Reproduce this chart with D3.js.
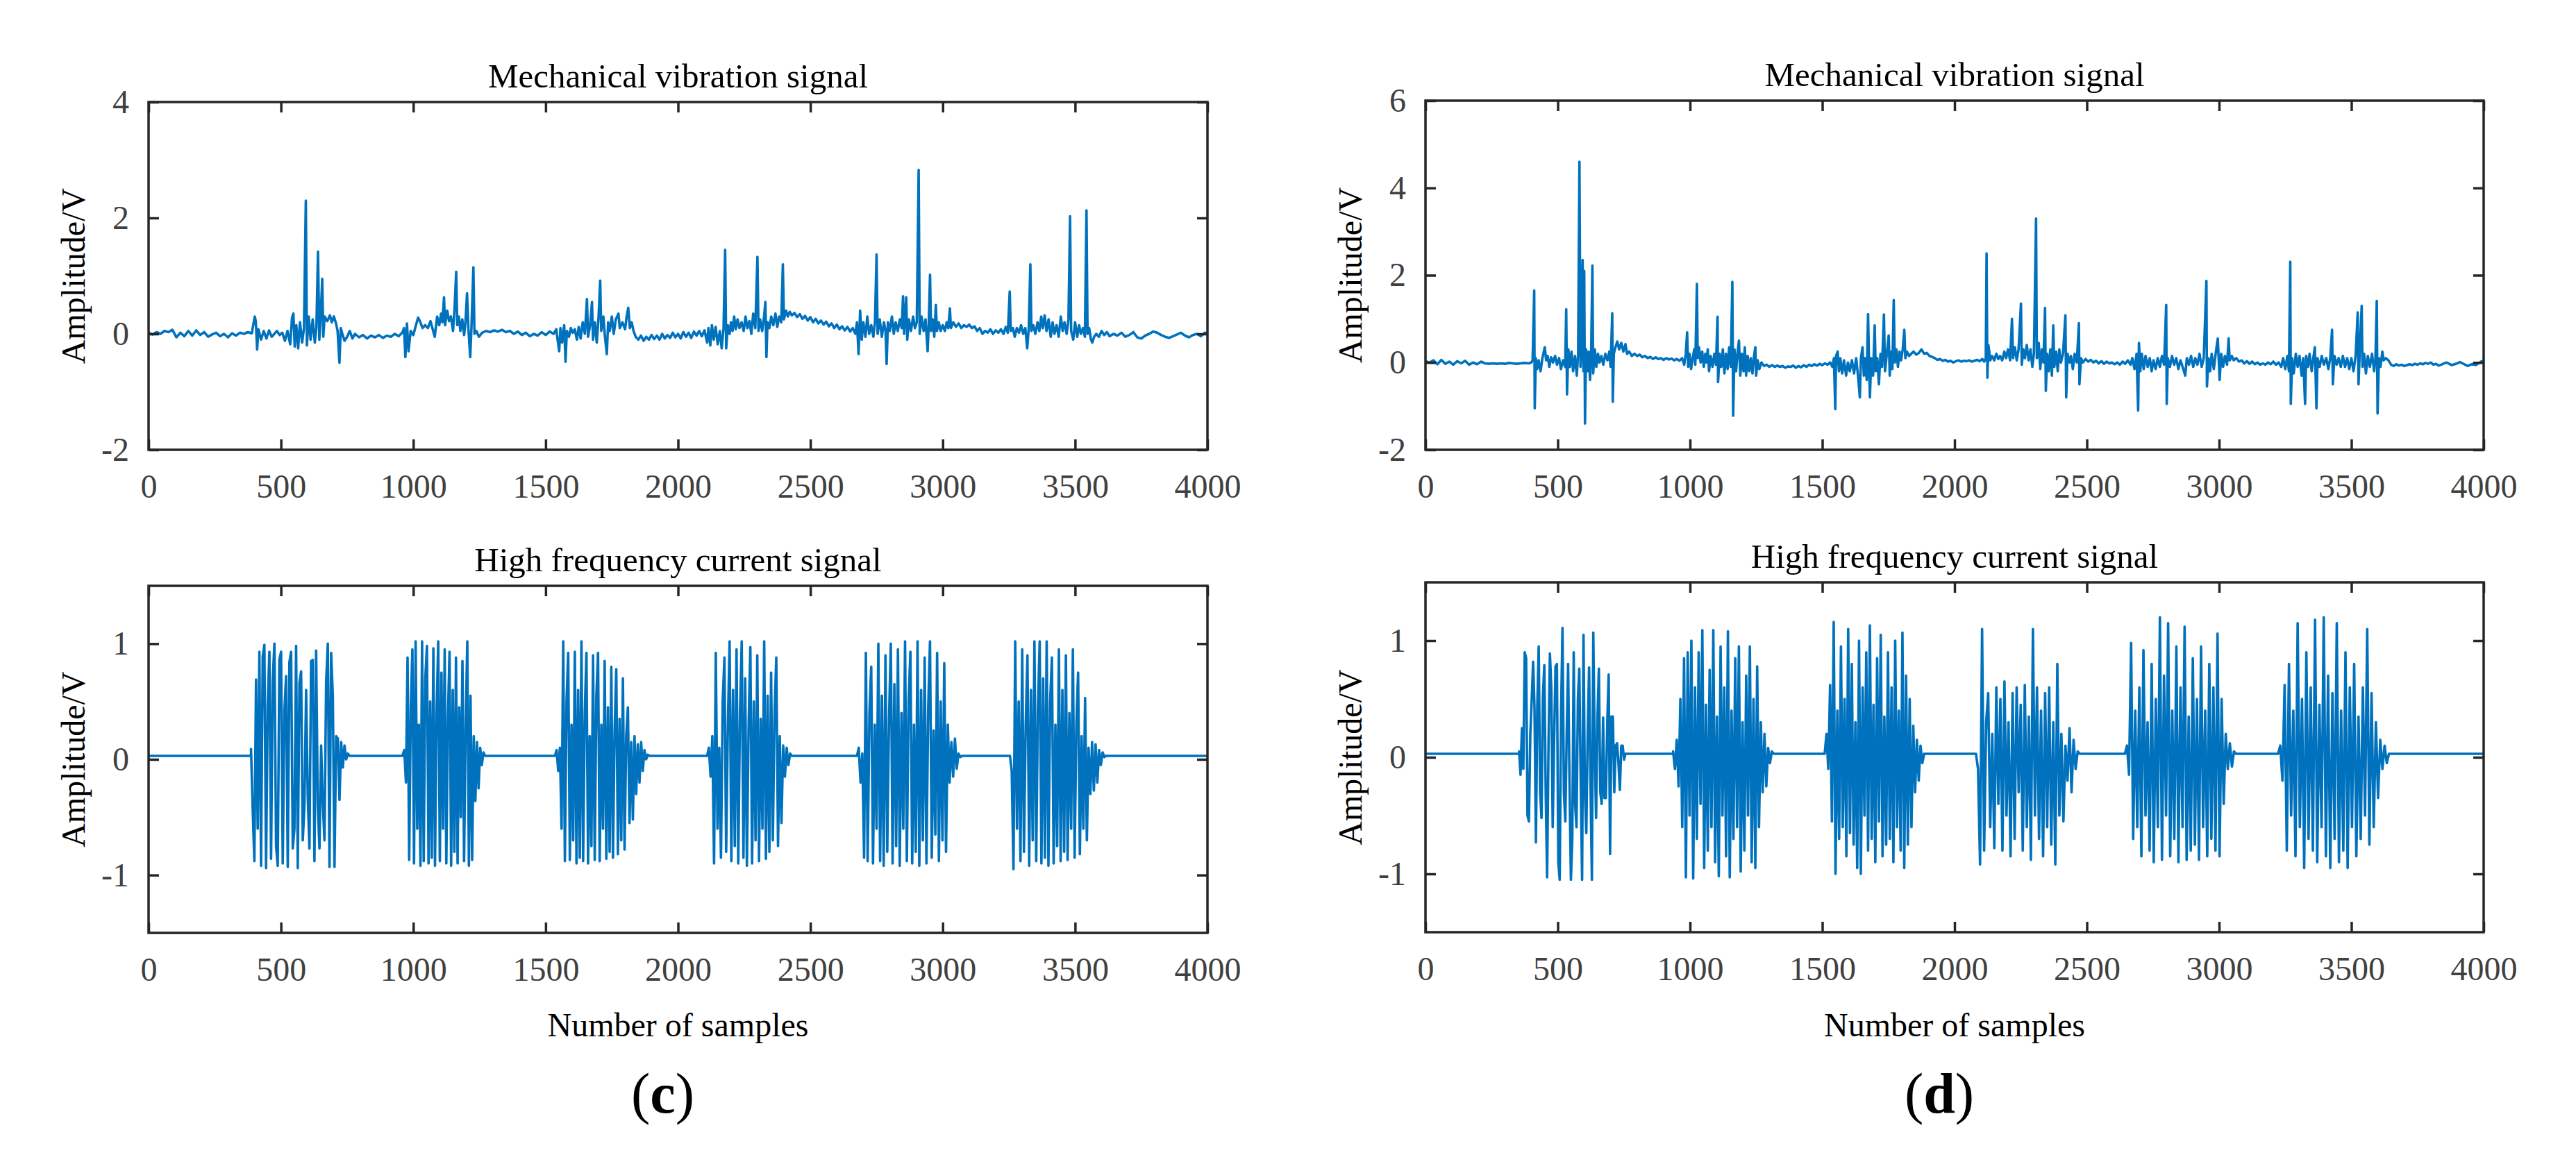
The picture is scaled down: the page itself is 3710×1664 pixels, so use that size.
<!DOCTYPE html>
<html>
<head>
  <meta charset="utf-8">
  <title>Vibration and current signals</title>
  <script src="https://d3js.org/d3.v7.min.js"></script>
  <style>
    body { margin: 0; background: #fff; }
    text { font-family: "Liberation Serif", "Times New Roman", serif; }
  </style>
</head>
<body>
  <div id="chart"></div>

  <script>
    // tick labels
    var xTicks = [0, 500, 1000, 1500, 2000, 2500, 3000, 3500, 4000];
    var yTicksVibC = [-2, 0, 2, 4];
    var yTicksVibD = [-2, 0, 2, 4, 6];
    var yTicksCur = [-1, 0, 1];

    // mechanical vibration signal (c): [sample, amplitude]
    var vibC = [
      [0,0.02],[15,-0.01],[30,0.03],[45,0.0],[60,0.05],[75,0.03],[90,0.07],[105,-0.06],[120,0.02],[135,-0.04],
      [150,0.05],[165,-0.03],[180,0.06],[195,-0.02],[210,0.03],[225,-0.05],[240,-0.01],[255,0.02],[270,-0.04],[285,0.0],
      [300,-0.06],[315,0.01],[330,-0.03],[345,0.02],[360,0.0],[375,0.03],[390,0.01],[401,0.3],[405,0.22],[410,-0.27],
      [415,0.08],[425,-0.1],[435,0.05],[445,-0.08],[455,0.06],[465,-0.05],[475,0.0],[485,0.05],[495,-0.02],[505,0.02],
      [515,-0.12],[525,0.05],[535,-0.18],[542,0.28],[547,0.35],[552,-0.22],[558,0.15],[565,-0.25],[572,0.2],[580,-0.15],
      [587,0.1],[594,2.3],[598,-0.2],[605,0.3],[612,-0.1],[620,0.25],[628,-0.15],[634,0.12],[640,1.42],[645,-0.1],
      [650,0.28],[656,0.95],[660,-0.05],[665,0.3],[675,0.22],[685,0.32],[692,0.2],[700,0.3],[708,0.18],[714,0.05],
      [721,-0.5],[726,0.1],[732,0.0],[740,-0.12],[750,-0.05],[760,0.05],[770,-0.08],[780,0.0],[795,-0.06],[810,-0.02],
      [825,-0.08],[840,-0.03],[855,-0.06],[870,-0.02],[885,-0.07],[900,-0.03],[915,-0.05],[930,0.0],[945,-0.04],[958,0.02],
      [965,0.1],[970,-0.4],[976,0.18],[982,-0.3],[990,0.05],[1000,-0.02],[1010,0.15],[1018,0.28],[1025,0.22],[1035,0.1],
      [1045,0.15],[1055,0.1],[1065,0.22],[1075,0.05],[1081,-0.05],[1090,0.3],[1098,0.15],[1105,0.35],[1110,0.2],[1116,0.63],
      [1120,0.15],[1128,0.4],[1135,0.22],[1142,0.3],[1150,0.05],[1156,0.45],[1162,1.07],[1166,0.15],[1172,0.3],[1178,0.05],
      [1185,0.25],[1192,-0.02],[1197,0.2],[1203,0.7],[1208,0.1],[1215,-0.4],[1220,0.15],[1227,1.15],[1231,0.0],[1238,0.05],
      [1248,-0.05],[1260,0.02],[1275,0.05],[1290,0.03],[1305,0.06],[1320,0.04],[1335,0.07],[1350,0.03],[1365,0.05],[1380,0.0],
      [1395,0.04],[1410,-0.02],[1425,0.02],[1440,-0.04],[1455,0.0],[1470,-0.03],[1485,0.03],[1500,-0.02],[1515,0.04],[1530,0.0],
      [1540,0.08],[1548,-0.2],[1551,-0.3],[1556,0.1],[1562,-0.15],[1570,0.15],[1575,-0.48],[1580,0.05],[1588,-0.05],[1595,0.1],
      [1602,0.02],[1610,0.08],[1618,-0.1],[1625,0.12],[1632,-0.08],[1640,0.2],[1648,0.0],[1656,0.6],[1660,-0.05],[1668,0.15],
      [1675,0.55],[1679,-0.1],[1686,0.2],[1693,-0.15],[1700,0.3],[1706,0.92],[1710,0.05],[1718,0.3],[1724,-0.05],[1731,-0.35],
      [1736,0.2],[1742,0.05],[1750,0.3],[1757,0.0],[1765,0.25],[1775,0.35],[1780,0.1],[1790,0.2],[1800,0.08],[1806,0.3],
      [1812,0.45],[1818,0.1],[1825,0.2],[1832,0.05],[1840,-0.05],[1850,-0.1],[1860,-0.03],[1870,-0.12],[1880,-0.05],[1890,-0.1],
      [1900,-0.02],[1910,-0.09],[1920,-0.03],[1930,-0.1],[1940,0.0],[1950,-0.08],[1960,-0.02],[1970,-0.07],[1980,0.02],[1990,-0.06],
      [2000,0.0],[2010,-0.08],[2020,0.03],[2030,-0.05],[2040,0.02],[2050,-0.07],[2060,0.04],[2070,-0.03],[2080,0.05],[2090,-0.04],
      [2100,0.06],[2110,-0.15],[2115,0.1],[2122,-0.2],[2128,0.15],[2135,-0.1],[2142,0.12],[2150,-0.18],[2158,0.05],[2165,-0.25],
      [2172,0.1],[2178,1.45],[2182,-0.25],[2188,0.15],[2195,0.0],[2200,0.2],[2206,0.05],[2212,0.3],[2218,0.08],[2225,0.25],
      [2232,0.1],[2240,0.2],[2248,0.05],[2255,0.3],[2262,0.1],[2270,0.22],[2277,0.0],[2284,0.35],[2292,0.1],[2300,1.33],
      [2304,0.05],[2310,0.25],[2318,0.05],[2325,0.3],[2330,0.55],[2334,-0.4],[2338,0.2],[2345,0.1],[2352,0.3],[2360,0.15],
      [2368,0.35],[2375,0.12],[2382,0.3],[2390,0.2],[2396,1.2],[2400,0.25],[2408,0.4],[2415,0.3],[2422,0.38],[2430,0.32],
      [2440,0.36],[2450,0.29],[2460,0.34],[2470,0.26],[2480,0.31],[2490,0.23],[2500,0.29],[2510,0.2],[2520,0.26],[2530,0.18],
      [2540,0.23],[2550,0.16],[2560,0.21],[2570,0.13],[2580,0.18],[2590,0.1],[2600,0.16],[2610,0.08],[2620,0.13],[2630,0.06],
      [2640,0.12],[2650,0.04],[2660,0.1],[2670,0.0],[2676,0.2],[2682,-0.35],[2688,0.4],[2694,-0.1],[2700,0.2],[2708,-0.05],
      [2715,0.3],[2722,0.0],[2730,0.15],[2738,-0.05],[2744,0.2],[2750,1.37],[2754,0.0],[2762,0.25],[2770,-0.05],[2778,0.2],
      [2784,0.05],[2788,-0.52],[2793,0.2],[2800,0.05],[2808,0.3],[2815,0.0],[2822,0.2],[2830,0.05],[2838,0.25],[2845,0.1],
      [2850,0.65],[2854,0.0],[2862,0.63],[2866,-0.1],[2872,0.25],[2880,0.05],[2888,0.3],[2895,0.1],[2902,0.2],[2909,2.83],
      [2913,0.0],[2920,0.3],[2928,0.05],[2935,0.25],[2943,-0.3],[2947,0.15],[2952,1.02],[2956,0.05],[2962,0.25],[2968,-0.05],
      [2974,0.5],[2978,0.05],[2985,0.2],[2992,0.05],[3000,0.15],[3008,0.05],[3015,0.2],[3021,0.1],[3027,0.44],[3031,0.1],
      [3040,0.2],[3050,0.12],[3060,0.18],[3070,0.1],[3080,0.15],[3090,0.12],[3100,0.16],[3110,0.1],[3120,0.13],[3130,0.05],
      [3140,0.1],[3150,0.0],[3160,0.05],[3170,0.02],[3180,0.08],[3190,0.0],[3200,0.06],[3210,0.02],[3220,0.08],[3230,0.0],
      [3238,0.12],[3246,0.02],[3253,0.73],[3257,0.05],[3265,0.1],[3272,-0.05],[3280,0.1],[3288,0.02],[3296,0.15],[3304,0.0],
      [3312,0.1],[3319,-0.25],[3325,0.1],[3331,1.2],[3335,0.05],[3342,0.15],[3350,0.0],[3358,0.2],[3365,0.05],[3372,0.3],
      [3378,0.1],[3385,0.32],[3392,0.05],[3400,0.25],[3408,-0.05],[3415,0.2],[3422,0.0],[3430,0.15],[3438,-0.05],[3446,0.3],
      [3453,0.05],[3460,0.2],[3468,0.0],[3475,0.25],[3481,2.03],[3485,0.05],[3493,-0.1],[3500,0.2],[3508,-0.05],[3515,0.15],
      [3522,0.0],[3530,0.1],[3537,-0.05],[3543,2.13],[3547,0.0],[3553,0.1],[3560,-0.1],[3565,-0.15],[3572,-0.05],[3580,0.0],
      [3590,-0.05],[3600,0.05],[3610,-0.02],[3620,0.03],[3630,-0.04],[3645,0.0],[3660,-0.03],[3675,0.02],[3690,-0.05],[3705,-0.02],
      [3720,0.03],[3735,-0.06],[3750,-0.08],[3765,-0.03],[3780,0.0],[3795,0.04],[3810,0.02],[3825,-0.02],[3840,-0.05],[3855,-0.07],
      [3870,-0.04],[3885,-0.01],[3900,0.02],[3915,-0.03],[3930,-0.06],[3945,-0.02],[3960,0.0],[3975,-0.04],[3990,0.02],[4000,0.01]
    ];

    // mechanical vibration signal (d): [sample, amplitude]
    var vibD = [
      [0,0.03],[15,0.0],[30,0.05],[45,-0.04],[60,0.06],[75,-0.03],[90,0.02],[105,-0.05],[120,0.03],[135,-0.02],
      [150,0.04],[165,-0.05],[180,0.0],[195,-0.04],[210,0.02],[225,-0.02],[240,-0.03],[255,-0.02],[270,-0.03],[285,-0.02],
      [300,-0.03],[315,-0.01],[330,-0.02],[345,-0.03],[360,-0.02],[375,-0.01],[390,-0.02],[400,0.0],[405,0.05],[411,1.65],
      [413,-1.05],[417,0.1],[422,-0.15],[428,0.05],[435,-0.2],[442,0.1],[451,0.35],[456,0.05],[462,0.15],[468,-0.1],
      [475,0.12],[482,0.0],[490,0.15],[497,-0.05],[505,0.1],[512,-0.15],[520,0.05],[528,-0.1],[532,1.22],[535,-0.73],
      [540,0.3],[546,-0.1],[552,0.25],[558,-0.2],[565,0.15],[572,-0.3],[577,0.2],[582,4.6],[586,-0.1],[590,0.5],
      [594,2.35],[597,-0.2],[600,2.1],[603,-1.4],[607,0.3],[612,-0.2],[617,0.25],[622,-0.4],[626,0.1],[631,2.22],
      [634,-0.25],[640,0.3],[646,-0.1],[652,0.2],[658,0.0],[665,0.15],[672,-0.05],[680,0.2],[688,0.05],[695,0.25],
      [700,-0.1],[706,1.13],[708,-0.9],[712,0.2],[718,0.35],[725,0.48],[732,0.3],[740,0.45],[748,0.25],[756,0.42],
      [762,0.2],[770,0.25],[780,0.15],[790,0.2],[800,0.15],[810,0.18],[820,0.12],[830,0.15],[840,0.1],[850,0.13],
      [860,0.08],[870,0.12],[880,0.08],[890,0.1],[900,0.06],[910,0.1],[920,0.07],[930,0.09],[940,0.05],[950,0.08],
      [960,0.04],[970,0.1],[978,-0.05],[984,0.2],[989,0.69],[993,-0.1],[998,0.2],[1004,-0.15],[1010,0.1],[1016,0.3],
      [1020,-0.05],[1026,1.8],[1029,0.1],[1034,0.35],[1040,0.0],[1046,0.25],[1052,-0.1],[1058,0.2],[1063,0.0],[1067,0.3],
      [1072,-0.2],[1078,0.15],[1085,-0.1],[1092,0.2],[1098,-0.05],[1104,1.05],[1106,-0.45],[1112,0.2],[1118,-0.1],[1124,0.3],
      [1130,-0.25],[1136,0.2],[1142,-0.15],[1148,0.35],[1154,-0.1],[1160,1.85],[1163,-1.22],[1168,0.3],[1174,-0.2],[1180,0.25],
      [1185,0.5],[1190,-0.3],[1196,0.2],[1202,-0.2],[1207,0.35],[1212,-0.3],[1218,0.15],[1224,-0.2],[1230,0.1],[1236,-0.25],
      [1242,0.15],[1247,0.35],[1250,-0.3],[1256,0.05],[1262,-0.15],[1270,0.0],[1280,-0.08],[1290,-0.05],[1300,-0.1],[1310,-0.06],
      [1320,-0.1],[1330,-0.07],[1340,-0.1],[1350,-0.08],[1360,-0.12],[1370,-0.09],[1380,-0.1],[1390,-0.07],[1400,-0.12],[1410,-0.08],
      [1420,-0.11],[1430,-0.06],[1440,-0.1],[1450,-0.05],[1460,-0.08],[1470,-0.04],[1480,-0.07],[1490,-0.03],[1500,-0.06],[1510,-0.02],
      [1520,-0.05],[1530,0.0],[1538,-0.1],[1544,0.1],[1549,-1.07],[1552,0.15],[1558,0.25],[1563,-0.2],[1568,0.1],[1575,-0.25],
      [1582,0.05],[1590,-0.3],[1597,0.0],[1604,-0.2],[1612,0.05],[1620,-0.25],[1628,0.1],[1635,-0.3],[1642,-0.8],[1646,0.1],
      [1652,0.35],[1657,-0.3],[1662,0.1],[1668,-0.4],[1673,1.11],[1677,-0.1],[1680,-0.8],[1685,0.1],[1692,-0.3],[1698,0.85],
      [1702,-0.2],[1708,0.1],[1714,-0.5],[1720,0.2],[1726,-0.1],[1733,1.1],[1737,-0.2],[1744,0.2],[1751,0.62],[1755,-0.3],
      [1760,0.25],[1765,-0.15],[1770,1.43],[1774,0.0],[1780,0.3],[1786,-0.1],[1792,0.25],[1798,0.05],[1804,0.3],[1810,0.75],
      [1814,0.1],[1820,0.25],[1828,0.15],[1836,0.2],[1845,0.25],[1855,0.18],[1865,0.22],[1875,0.3],[1885,0.2],[1895,0.22],
      [1905,0.15],[1915,0.13],[1925,0.1],[1935,0.06],[1945,0.08],[1955,0.04],[1965,0.06],[1975,0.02],[1985,0.04],[1995,0.0],
      [2005,0.03],[2015,0.05],[2025,0.02],[2035,0.04],[2045,0.03],[2055,0.05],[2065,0.02],[2075,0.04],[2085,0.06],[2095,0.03],
      [2105,0.08],[2112,0.02],[2118,0.1],[2121,2.5],[2124,-0.35],[2128,0.4],[2135,0.05],[2142,0.15],[2150,0.05],[2158,0.2],
      [2165,0.08],[2172,0.15],[2180,0.05],[2188,0.25],[2195,0.1],[2202,0.3],[2210,0.05],[2217,1.0],[2221,0.1],[2228,0.35],
      [2235,0.05],[2242,0.3],[2251,1.35],[2254,-0.05],[2260,0.3],[2266,0.1],[2273,0.4],[2280,0.05],[2287,0.3],[2294,-0.1],
      [2300,0.2],[2308,3.3],[2311,0.1],[2318,0.45],[2324,-0.15],[2330,0.3],[2336,0.0],[2342,1.25],[2345,-0.65],[2350,0.2],
      [2356,-0.2],[2362,0.3],[2368,-0.3],[2373,0.85],[2377,-0.1],[2384,0.25],[2390,-0.2],[2396,0.3],[2402,0.0],[2410,0.2],
      [2419,1.08],[2422,-0.8],[2427,0.2],[2434,0.0],[2440,0.15],[2447,-0.15],[2454,0.2],[2462,0.0],[2470,0.9],[2472,-0.5],
      [2478,0.1],[2485,0.0],[2495,0.08],[2505,0.02],[2515,0.06],[2525,0.0],[2535,0.04],[2545,-0.02],[2555,0.03],[2565,-0.03],
      [2575,0.02],[2585,-0.02],[2595,0.0],[2605,-0.04],[2615,0.0],[2625,-0.05],[2635,0.02],[2645,-0.03],[2655,0.05],[2665,-0.05],
      [2672,0.1],[2680,-0.15],[2688,0.2],[2694,-1.1],[2697,0.45],[2702,-0.2],[2708,0.2],[2715,-0.15],[2722,0.15],[2730,-0.1],
      [2738,0.1],[2745,-0.2],[2752,0.05],[2760,-0.15],[2768,0.1],[2776,-0.1],[2784,0.15],[2792,-0.05],[2800,1.32],[2802,-0.95],
      [2806,0.1],[2814,-0.1],[2822,0.15],[2830,-0.05],[2838,0.1],[2846,-0.15],[2854,0.05],[2862,-0.1],[2872,-0.3],[2878,0.1],
      [2886,-0.05],[2894,0.15],[2902,-0.1],[2910,0.1],[2918,-0.05],[2926,0.2],[2934,-0.1],[2942,0.1],[2952,1.87],[2954,-0.55],
      [2960,0.1],[2966,-0.2],[2972,0.2],[2980,-0.15],[2988,0.25],[2995,0.55],[2999,0.0],[3002,-0.4],[3008,0.2],[3015,-0.1],
      [3022,0.15],[3030,-0.05],[3036,0.55],[3040,0.05],[3048,0.15],[3055,0.05],[3065,0.1],[3075,0.02],[3085,0.05],[3095,-0.02],
      [3105,0.03],[3115,-0.03],[3125,0.02],[3135,-0.04],[3145,0.0],[3155,-0.05],[3165,-0.02],[3175,-0.05],[3185,0.0],[3195,-0.04],
      [3205,0.02],[3215,-0.05],[3225,0.0],[3235,-0.1],[3242,0.1],[3250,-0.15],[3258,0.15],[3264,-0.2],[3269,2.31],[3271,-0.95],
      [3276,0.1],[3282,-0.25],[3290,0.2],[3297,-0.1],[3304,0.15],[3312,-0.3],[3318,0.1],[3325,-0.95],[3329,0.15],[3336,-0.1],
      [3342,0.2],[3350,-0.2],[3356,0.1],[3362,0.35],[3368,-1.05],[3372,0.1],[3380,-0.1],[3388,0.15],[3396,-0.05],[3405,0.1],
      [3413,-0.15],[3420,0.1],[3427,0.75],[3430,-0.5],[3436,0.15],[3444,-0.05],[3452,0.1],[3460,-0.1],[3468,0.15],[3476,-0.1],
      [3484,0.1],[3492,-0.15],[3500,0.1],[3508,-0.2],[3516,0.15],[3524,1.15],[3527,-0.5],[3532,0.3],[3539,1.3],[3542,-0.1],
      [3548,0.2],[3555,-0.25],[3562,0.15],[3570,-0.1],[3578,0.2],[3586,-0.2],[3591,0.1],[3596,1.41],[3599,-1.17],[3604,0.1],
      [3610,-0.1],[3617,0.25],[3622,0.05],[3630,0.1],[3640,0.05],[3650,-0.05],[3660,-0.08],[3670,-0.04],[3680,-0.07],[3690,-0.05],
      [3700,-0.08],[3710,-0.06],[3720,-0.04],[3730,-0.06],[3740,-0.03],[3750,-0.05],[3760,-0.02],[3770,-0.04],[3780,-0.01],[3790,-0.03],
      [3800,0.0],[3810,-0.05],[3820,-0.03],[3830,-0.07],[3840,-0.05],[3850,-0.02],[3860,0.0],[3870,-0.03],[3880,-0.06],[3890,-0.04],
      [3900,-0.02],[3910,0.01],[3920,-0.02],[3930,-0.05],[3940,-0.08],[3950,-0.05],[3960,-0.03],[3970,-0.06],[3980,-0.02],[3990,0.02],[4000,0.04]
    ];

    // high frequency current signal: level between bursts
    var curBaseC = 0.03;
    var curBaseD = 0.03;

    // burst spans [first sample, last sample]
    var burstSpanC = [[387, 759], [960, 1271], [1535, 1892], [2110, 2430], [2676, 3073], [3254, 3617]];
    var burstSpanD = [[354, 756], [936, 1316], [1509, 1885], [2081, 2473], [2644, 3064], [3223, 3642]];

    // successive extremes inside each burst (c)
    var burstC1 = [0.09,-0.43,-0.88,0.69,-0.6,0.93,-0.92,0.89,0.99,-0.94,0.48,0.93,-0.86,0.68,1.0,-0.75,-0.92,0.86,0.93,-0.9,
                   0.42,0.72,-0.93,0.84,0.93,-0.77,-0.6,0.98,-0.94,0.66,0.76,-0.7,-0.4,0.6,-0.33,-0.77,0.85,0.86,-0.88,0.94,
                   -0.4,-0.77,0.12,-0.38,-0.7,0.67,1.0,-0.93,0.92,0.55,-0.93,0.2,0.18,-0.35,0.15,-0.07,0.12,0.0,0.05,0.03];
    var burstC2 = [0.04,0.08,-0.2,0.88,-0.87,0.45,0.95,-0.9,1.02,-0.6,0.3,-0.92,1.02,-0.88,0.7,0.98,-0.9,0.5,-0.85,0.96,
                   -0.92,0.4,1.02,-0.88,0.75,-0.6,0.95,-0.9,0.35,0.93,-0.92,0.6,-0.8,0.88,-0.9,0.45,-0.5,0.85,-0.88,0.3,
                   1.02,-0.92,0.55,-0.87,0.2,-0.36,0.15,-0.25,0.1,-0.05,0.06,0.03];
    var burstC3 = [0.03,0.08,-0.1,0.1,-0.6,1.02,-0.88,0.5,0.92,-0.87,0.3,-0.7,0.93,-0.9,0.6,-0.85,1.02,-0.88,0.4,0.92,
                   -0.9,0.2,-0.75,0.9,-0.87,0.55,0.92,-0.88,0.3,-0.6,0.85,-0.86,0.45,-0.8,0.8,-0.85,0.25,0.78,-0.82,0.35,
                   -0.7,0.7,-0.78,0.2,0.45,-0.55,0.15,-0.52,0.2,-0.3,0.13,-0.2,0.15,-0.1,0.08,0.0,0.04,0.03];
    var burstC4 = [0.03,0.1,-0.15,0.2,-0.9,0.92,-0.6,0.1,-0.85,0.5,0.88,-0.8,0.3,1.02,-0.88,0.6,-0.75,0.95,-0.9,0.4,
                   1.02,-0.85,0.7,-0.92,0.3,0.97,-0.9,0.5,-0.7,0.9,-0.88,0.35,-0.6,1.02,-0.86,0.55,-0.8,0.75,-0.7,0.4,
                   0.88,-0.75,0.2,-0.55,0.12,-0.15,0.1,-0.05,0.05,0.03];
    var burstC5 = [0.03,0.1,-0.2,0.05,-0.85,0.92,-0.88,0.4,0.8,-0.9,0.3,-0.6,1.0,-0.88,0.55,-0.92,0.9,-0.8,0.35,1.0,
                   -0.9,0.65,-0.75,0.95,-0.92,0.4,-0.6,1.02,-0.88,0.5,0.93,-0.9,0.3,-0.8,1.02,-0.92,0.6,-0.7,0.88,-0.9,
                   0.45,1.02,-0.85,0.25,-0.65,0.92,-0.88,0.5,-0.7,0.83,-0.8,0.3,-0.2,0.15,-0.15,0.18,-0.08,0.05,0.02,0.03];
    var burstC6 = [0.03,-0.1,-0.95,1.02,-0.6,0.5,-0.88,0.95,-0.8,0.3,0.9,-0.92,0.6,-0.7,1.02,-0.88,0.45,1.02,-0.9,0.7,
                   -0.85,1.02,-0.92,0.5,0.88,-0.9,0.3,-0.75,0.95,-0.88,0.6,-0.8,0.9,-0.87,0.4,-0.6,0.95,-0.85,0.3,0.75,
                   -0.82,0.2,-0.6,0.53,-0.7,0.1,-0.3,0.15,-0.27,0.13,-0.2,0.08,-0.05,0.06,0.02,0.03];

    // successive extremes inside each burst (d)
    var burstD1 = [0.05,-0.15,0.25,-0.1,0.9,0.85,-0.5,-0.55,0.2,0.5,0.82,0.42,-0.73,0.45,0.95,-0.3,-0.52,0.52,0.79,-0.3,
                   -1.03,0.1,0.89,0.6,-0.6,0.15,0.78,0.8,-0.9,-1.05,0.4,1.11,-0.3,-0.55,0.2,0.8,-0.2,-1.05,-0.7,0.9,
                   -0.4,-0.6,0.5,0.76,-0.2,-1.05,1.05,-0.3,-0.65,0.2,0.77,-0.2,-1.05,1.07,0.1,-0.52,0.35,0.76,-0.3,-0.4,
                   0.34,-0.35,-0.35,0.3,0.71,-0.83,0.35,0.35,-0.3,0.1,0.12,-0.05,-0.28,0.1,0.1,-0.02,0.03];
    var burstD2 = [0.05,-0.1,0.15,-0.25,0.5,-0.6,0.85,-1.03,0.9,-0.5,1.0,-1.04,0.6,-0.7,0.9,-0.4,1.09,-0.95,0.45,-0.8,
                   0.75,-0.6,1.09,-0.9,0.35,-1.02,0.95,-0.5,0.6,-0.85,1.08,-1.03,0.4,-0.7,0.85,-0.6,0.95,-0.98,0.3,-0.8,
                   0.7,-0.5,0.95,-0.9,0.5,-0.95,0.78,-0.6,0.3,-0.3,0.2,-0.25,0.08,-0.05,0.05,0.03];
    var burstD3 = [0.03,0.2,-0.1,0.62,-0.55,1.16,-1.0,0.4,-0.7,0.95,-0.6,0.5,-0.85,1.1,-0.65,0.8,-0.75,0.3,-0.95,1.0,
                   -1.0,0.6,-0.5,0.9,-0.8,1.13,-0.7,0.45,-0.9,0.85,-0.55,1.05,-0.85,0.35,-0.75,0.9,-0.7,0.6,-0.9,1.0,
                   -0.6,0.4,-0.8,1.07,-0.95,0.7,-0.75,0.5,-0.6,0.27,-0.3,0.15,-0.2,0.1,-0.05,0.03];
    var burstD4 = [0.03,-0.1,-0.92,1.1,-0.8,0.3,0.55,-0.6,0.2,-0.78,0.6,-0.4,0.5,-0.8,0.65,-0.5,0.3,-0.85,0.55,-0.7,
                   0.6,-0.3,0.45,-0.8,0.62,-0.6,0.35,-0.88,1.1,-0.5,0.6,-0.7,0.4,-0.85,0.55,-0.6,0.6,-0.75,0.3,-0.92,
                   0.8,-0.5,0.2,-0.55,0.1,-0.2,0.25,-0.3,0.15,-0.1,0.05,0.03];
    var burstD5 = [0.03,0.1,-0.15,0.98,-0.7,0.4,-0.6,0.6,-0.85,0.92,-0.5,0.3,-0.8,0.8,-0.9,0.5,-0.6,1.2,-0.88,0.7,
                   -0.5,1.15,-0.85,0.4,-0.7,0.95,-0.9,0.6,-0.6,1.12,-0.88,0.35,-0.8,0.85,-0.75,0.5,-0.88,0.95,-0.6,0.4,
                   -0.85,0.8,-0.7,0.6,-0.8,1.06,-0.85,0.5,-0.4,0.2,-0.1,0.12,-0.08,0.05,0.03];
    var burstD6 = [0.03,0.1,-0.2,0.62,-0.8,0.8,-0.5,0.4,-0.85,1.15,-0.6,0.5,-0.95,0.9,-0.7,0.6,-0.8,1.18,-0.9,0.45,
                   -0.6,1.2,-0.85,0.7,-0.95,0.55,-0.7,1.15,-0.9,0.4,-0.8,0.9,-0.95,0.6,-0.6,0.8,-0.85,0.35,-0.7,0.6,
                   -0.5,1.1,-0.75,0.55,-0.6,0.3,-0.35,0.15,-0.1,0.1,-0.05,0.03];

    var burstsC = [burstC1, burstC2, burstC3, burstC4, burstC5, burstC6];
    var burstsD = [burstD1, burstD2, burstD3, burstD4, burstD5, burstD6];

    // put the burst extremes on the sample axis, one series per panel
    function currentSeries(spans, bursts, base) {
      var pts = [[0, base]];
      bursts.forEach(function(vals, i) {
        var s = d3.scaleLinear().domain([0, vals.length - 1]).range(spans[i]);
        pts.push([spans[i][0], base]);
        vals.forEach(function(v, j) { pts.push([s(j), v]); });
        pts.push([spans[i][1], base]);
      });
      pts.push([4000, base]);
      return pts;
    }

    var W = 3710, H = 1664;
    var svg = d3.select("#chart").append("svg")
      .attr("width", W).attr("height", H);
    svg.append("rect").attr("width", W).attr("height", H).attr("fill", "#fff");

    var panels = [
      { x0: 214, x1: 1739, y0: 147, y1: 648, dom: [-2, 4], ticks: yTicksVibC, title: "Mechanical vibration signal", data: vibC },
      { x0: 2053, x1: 3577, y0: 145, y1: 648, dom: [-2, 6], ticks: yTicksVibD, title: "Mechanical vibration signal", data: vibD },
      { x0: 214, x1: 1739, y0: 844, y1: 1344, dom: [-1.5, 1.5], ticks: yTicksCur, title: "High frequency current signal",
        data: currentSeries(burstSpanC, burstsC, curBaseC), xlab: true, letter: "c" },
      { x0: 2053, x1: 3577, y0: 839, y1: 1343, dom: [-1.5, 1.5], ticks: yTicksCur, title: "High frequency current signal",
        data: currentSeries(burstSpanD, burstsD, curBaseD), xlab: true, letter: "d" }
    ];

    var fmt = function(d) { return String(d); };

    panels.forEach(function(p, k) {
      var x = d3.scaleLinear().domain([0, 4000]).range([p.x0, p.x1]);
      var y = d3.scaleLinear().domain(p.dom).range([p.y1, p.y0]);
      var g = svg.append("g");

      var clipId = "clip" + k;
      svg.append("clipPath").attr("id", clipId)
        .append("rect").attr("x", p.x0).attr("y", p.y0)
        .attr("width", p.x1 - p.x0).attr("height", p.y1 - p.y0);

      // signal
      g.append("path")
        .datum(p.data)
        .attr("clip-path", "url(#" + clipId + ")")
        .attr("fill", "none")
        .attr("stroke", "#0072BD")
        .attr("stroke-width", 3.6)
        .attr("stroke-linejoin", "round")
        .attr("d", d3.line().x(d => x(d[0])).y(d => y(d[1])));

      // axes, ticks pointing inward on all four sides
      var ax = [
        g.append("g").attr("transform", "translate(0," + p.y1 + ")")
          .call(d3.axisBottom(x).tickValues(xTicks).tickFormat(fmt).tickSizeInner(-15).tickSizeOuter(0).tickPadding(35)),
        g.append("g").attr("transform", "translate(0," + p.y0 + ")")
          .call(d3.axisTop(x).tickValues(xTicks).tickFormat("").tickSizeInner(-15).tickSizeOuter(0)),
        g.append("g").attr("transform", "translate(" + p.x0 + ",0)")
          .call(d3.axisLeft(y).tickValues(p.ticks).tickFormat(fmt).tickSizeInner(-15).tickSizeOuter(0).tickPadding(28)),
        g.append("g").attr("transform", "translate(" + p.x1 + ",0)")
          .call(d3.axisRight(y).tickValues(p.ticks).tickFormat("").tickSizeInner(-15).tickSizeOuter(0))
      ];
      ax.forEach(function(a) {
        a.select(".domain").remove();
        a.selectAll(".tick line").attr("stroke", "#262626").attr("stroke-width", 3.5);
        a.selectAll(".tick text")
          .attr("fill", "#404040")
          .style("font-family", "'Liberation Serif', 'Times New Roman', serif")
          .style("font-size", "48px");
      });

      // box
      g.append("rect")
        .attr("x", p.x0).attr("y", p.y0)
        .attr("width", p.x1 - p.x0).attr("height", p.y1 - p.y0)
        .attr("fill", "none").attr("stroke", "#262626").attr("stroke-width", 3.5);

      // title
      g.append("text")
        .attr("x", (p.x0 + p.x1) / 2).attr("y", p.y0 - 21)
        .attr("text-anchor", "middle")
        .attr("fill", "#000")
        .style("font-size", "49px")
        .text(p.title);

      // y label
      g.append("text")
        .attr("transform", "translate(" + (p.x0 - 92) + "," + ((p.y0 + p.y1) / 2) + ") rotate(-90)")
        .attr("text-anchor", "middle")
        .attr("fill", "#000")
        .style("font-size", "48px")
        .text("Amplitude/V");

      if (p.xlab) {
        g.append("text")
          .attr("x", (p.x0 + p.x1) / 2).attr("y", 1493)
          .attr("text-anchor", "middle")
          .attr("fill", "#000")
          .style("font-size", "48px")
          .text("Number of samples");

        var lab = g.append("text")
          .attr("x", (p.x0 + p.x1) / 2 - 22).attr("y", 1603)
          .attr("text-anchor", "middle")
          .attr("fill", "#000")
          .style("font-size", "82px");
        lab.append("tspan").text("(");
        lab.append("tspan").attr("font-weight", "bold").text(p.letter);
        lab.append("tspan").text(")");
      }
    });
  </script>
</body>
</html>
